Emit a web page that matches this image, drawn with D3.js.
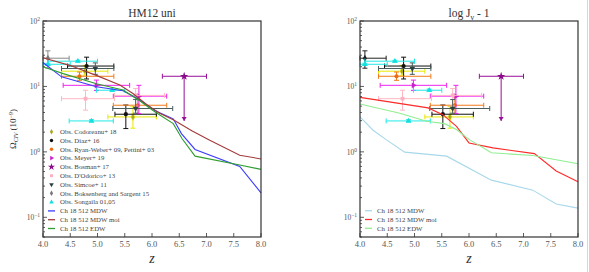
<!DOCTYPE html>
<html><head><meta charset="utf-8">
<script src="https://cdn.jsdelivr.net/npm/d3@7"></script>
<style>body{margin:0;background:#fff}svg{display:block}</style>
</head><body>
<svg id="c" width="589" height="272"></svg>
<script>
// ---------- data ----------
const zTicks = [4.0, 4.5, 5.0, 5.5, 6.0, 6.5, 7.0, 7.5, 8.0];
const yTicks = [0.1, 1, 10, 100];
const yTickExp = ["−1", "0", "1", "2"];
const panelTitles = ["HM12 uni", "log J"];

// observations: [z, value, zLow, zHigh, valueLow, valueHigh]
const codoreanu = [[4.77, 17.1, 4.34, 5.19, 14.8, 21.0], [5.65, 3.42, 5.19, 6.08, 2.3, 4.9]];
const diaz = [[4.80, 20.5, 4.45, 5.30, 13.0, 28.0], [5.52, 3.76, 5.32, 6.08, 2.27, 5.2]];
const ryanWeber = [[4.67, 14.3, 4.34, 5.30, 12.4, 16.6], [5.74, 5.16, 5.29, 6.27, 3.85, 6.9]];
const moyer = [[4.98, 10.4, 4.37, 5.59, 8.7, 12.5], [5.76, 7.1, 5.29, 6.27, 3.86, 10.4]];
const bosman = [[6.59, 14.3, 6.19, 7.0, 2.97, 14.3]];
const dOdorico = [[4.78, 6.5, 4.34, 5.31, 4.34, 8.75], [5.70, 7.3, 5.31, 6.23, 5.0, 9.3]];
const simcoe = [[4.96, 18.8, 4.34, 5.30, 15.3, 22.9], [5.70, 4.6, 5.28, 6.38, 3.9, 6.3]];
const boksenberg = [[4.09, 27.0, 4.0, 4.48, 19.0, 35.0]];
const songaila = [[4.09, 21.8, 4.0, 4.50, 21.0, 22.6], [4.64, 24.3, 4.09, 5.0, 23.5, 25.1],
                  [5.27, 8.75, 4.98, 5.50, 8.4, 9.1], [4.89, 2.97, 4.48, 5.29, 2.85, 3.1]];
const obsNames = ["Obs. Codoreanu+ 18", "Obs. Díaz+ 16", "Obs. Ryan-Weber+ 09, Pettini+ 03",
  "Obs. Meyer+ 19", "Obs. Bosman+ 17", "Obs. D'Odorico+ 13", "Obs. Simcoe+ 11",
  "Obs. Boksenberg and Sargent 15", "Obs. Songaila 01,05"];

// model lines: [z, value]
const leftMDW = [[4.0, 23.2], [4.34, 14.0], [4.98, 9.9], [5.47, 8.6], [5.78, 6.2], [6.05, 4.3], [6.39, 3.2],
  [6.54, 1.9], [6.79, 1.09], [7.61, 0.6], [8.0, 0.237]];
const leftMDWmoi = [[4.0, 27.5], [4.49, 21.0], [5.0, 14.5], [5.41, 10.5], [5.65, 7.8], [5.9, 5.3], [6.14, 3.9],
  [6.39, 3.1], [6.73, 2.1], [7.06, 1.5], [7.61, 0.89], [8.0, 0.78]];
const leftEDW = [[4.0, 20.0], [4.37, 15.7], [4.98, 11.0], [5.47, 8.8], [5.78, 6.0], [6.05, 4.1], [6.39, 2.7],
  [6.55, 1.6], [6.79, 0.86], [7.61, 0.63], [8.0, 0.54]];
const rightMDW = [[4.0, 3.42], [4.24, 2.14], [4.48, 1.54], [4.82, 0.99], [5.59, 0.86], [6.41, 0.37],
  [7.17, 0.26], [7.6, 0.16], [8.0, 0.138]];
const rightMDWmoi = [[4.0, 6.8], [5.25, 4.7], [5.52, 3.7], [5.77, 2.45], [6.0, 1.37], [6.44, 1.15],
  [7.2, 0.94], [7.6, 0.51], [8.0, 0.35]];
const rightEDW = [[4.0, 5.4], [4.73, 3.9], [5.22, 2.93], [5.55, 2.7], [5.77, 2.2], [6.0, 1.55], [6.41, 0.97],
  [7.17, 0.88], [7.6, 0.76], [8.0, 0.66]];
const lineNames = ["Ch 18 512 MDW", "Ch 18 512 MDW moi", "Ch 18 512 EDW"];

// ---------- styles ----------
const obsSets = [codoreanu, diaz, ryanWeber, moyer, bosman, dOdorico, simcoe, boksenberg, songaila];
const obsBar = ["#e8e800", "#111111", "#f07a1a", "#ee22ee", "#990f99", "#ffb8c4", "#4a5e5e", "#8a8a8a", "#22e8e8"];
const obsMark = ["#a8a820", "#111111", "#f06a10", "#cc22cc", "#8a0a8a", "#ffb0c0", "#2f4040", "#777777", "#10e0e0"];
const obsBarRight = obsBar.slice(); obsBarRight[7] = "#222222";
const obsMarkRight = obsMark.slice(); obsMarkRight[7] = "#222222";
const obsSym = ["diamond", "circle", "circle", "tri-right", "star", "square", "tri-down", "diamond", "tri-up"];
const leftColors = ["#3b3bff", "#a33a3a", "#2e9e2e"];
const rightColors = ["#a8d8ea", "#ff2a2a", "#90ee90"];

const svg = d3.select("#c");
const FONT = "Liberation Serif, DejaVu Serif, serif";

svg.append("line").attr("x1", 587.5).attr("x2", 587.5).attr("y1", 0).attr("y2", 272)
  .attr("stroke", "#d8d8d8").attr("stroke-width", 1);

function symbolPath(kind, size) {
  let t = d3.symbolCircle, rot = 0;
  if (kind === "diamond") t = d3.symbolDiamond;
  if (kind === "square") t = d3.symbolSquare;
  if (kind === "star") t = d3.symbolStar;
  if (kind === "tri-up") t = d3.symbolTriangle;
  if (kind === "tri-down") { t = d3.symbolTriangle; rot = 180; }
  if (kind === "tri-right") { t = d3.symbolTriangle; rot = 90; }
  return { d: d3.symbol().type(t).size(size)(), rot };
}

function panel(x0, x1, title, lines, colors, bars, marks, showObsLegend, showYLabel) {
  const x = d3.scaleLinear().domain([4, 8]).range([x0, x1]);
  const y = d3.scaleLog().domain([0.05, 100]).range([237, 21]);
  const g = svg.append("g");

  // y minor/major ticks inward
  const minor = [];
  for (let e = -2; e <= 1; e++) for (let m = 1; m <= 9; m++) {
    const v = m * Math.pow(10, e);
    if (v >= 0.05 && v <= 100) minor.push(v);
  }
  minor.push(100);
  g.selectAll(".ymin").data(minor).enter().append("line")
    .attr("x1", x0).attr("x2", d => x0 + (yTicks.includes(d) ? 4 : 2))
    .attr("y1", d => y(d)).attr("y2", d => y(d))
    .attr("stroke", "#333").attr("stroke-width", 0.8);
  g.selectAll(".xt").data(zTicks).enter().append("line")
    .attr("x1", d => x(d)).attr("x2", d => x(d)).attr("y1", 237).attr("y2", 233)
    .attr("stroke", "#333").attr("stroke-width", 0.8);

  // tick labels
  g.selectAll(".xl").data(zTicks).enter().append("text")
    .attr("x", d => x(d)).attr("y", 247).attr("text-anchor", "middle")
    .attr("font-family", FONT).attr("font-size", 8.5).attr("fill", "#555")
    .text(d => d.toFixed(1));
  yTicks.forEach((v, i) => {
    const t = g.append("text").attr("x", x0 - 3).attr("y", y(v) + 3).attr("text-anchor", "end")
      .attr("font-family", FONT).attr("font-size", 7.5).attr("fill", "#555");
    t.append("tspan").text("10");
    t.append("tspan").attr("dy", -3).attr("font-size", 5.5).text(yTickExp[i]);
  });

  // observations
  obsSets.forEach((set, si) => {
    set.forEach(p => {
      const [z, v, zl, zh, vl, vh] = p;
      const col = bars[si];
      const cx = x(z), cy = y(v);
      g.append("line").attr("x1", x(zl)).attr("x2", x(zh)).attr("y1", cy).attr("y2", cy)
        .attr("stroke", col).attr("stroke-width", 1);
      [zl, zh].forEach(zz => g.append("line").attr("x1", x(zz)).attr("x2", x(zz))
        .attr("y1", cy - 2.5).attr("y2", cy + 2.5).attr("stroke", col).attr("stroke-width", 1));
      g.append("line").attr("x1", cx).attr("x2", cx).attr("y1", y(vh)).attr("y2", y(vl))
        .attr("stroke", col).attr("stroke-width", 1);
      if (obsSym[si] === "star") {
        const ay = y(vl);
        g.append("path").attr("d", `M${cx - 2.5},${ay - 4}L${cx + 2.5},${ay - 4}L${cx},${ay}Z`).attr("fill", col);
      } else {
        [vl, vh].forEach(vv => g.append("line").attr("x1", cx - 2.5).attr("x2", cx + 2.5)
          .attr("y1", y(vv)).attr("y2", y(vv)).attr("stroke", col).attr("stroke-width", 1));
      }
      const s = symbolPath(obsSym[si], obsSym[si] === "star" ? 22 : 14);
      g.append("path").attr("d", s.d)
        .attr("transform", `translate(${cx},${cy}) rotate(${s.rot})`)
        .attr("fill", marks[si]).attr("stroke", si === 0 ? "#e8e800" : "none").attr("stroke-width", 0.6);
    });
  });

  // model lines
  const lineGen = d3.line().x(d => x(d[0])).y(d => y(d[1]));
  lines.forEach((ln, i) => {
    g.append("path").datum(ln).attr("d", lineGen).attr("fill", "none")
      .attr("stroke", colors[i]).attr("stroke-width", 1.1);
  });

  // frame
  g.append("rect").attr("x", x0).attr("y", 21).attr("width", x1 - x0).attr("height", 216)
    .attr("fill", "none").attr("stroke", "#333").attr("stroke-width", 1.2);

  // title
  const tt = g.append("text").attr("x", (x0 + x1) / 2).attr("y", 17).attr("text-anchor", "middle")
    .attr("font-family", FONT).attr("font-size", 11.5).attr("fill", "#333");
  if (title === "log J") {
    tt.append("tspan").text("log J");
    tt.append("tspan").attr("dy", 2.5).attr("font-size", 8).text("ν");
    tt.append("tspan").attr("dy", -2.5).text(" - 1");
  } else tt.text(title);

  // x label
  g.append("text").attr("x", (x0 + x1) / 2).attr("y", 262.5).attr("text-anchor", "middle")
    .attr("font-family", FONT).attr("font-style", "italic").attr("font-size", 14).attr("fill", "#333").text("z");

  if (showYLabel) {
    const yl = g.append("text").attr("transform", "translate(16,129) rotate(-90)").attr("text-anchor", "middle")
      .attr("font-family", FONT).attr("font-size", 9).attr("fill", "#333");
    yl.append("tspan").text("Ω");
    yl.append("tspan").attr("dy", 2).attr("font-size", 6).attr("font-style", "italic").text("CIV");
    yl.append("tspan").attr("dy", -2).text(" (10");
    yl.append("tspan").attr("dy", -3).attr("font-size", 6).text("−9");
    yl.append("tspan").attr("dy", 3).text(")");
  }

  // legend
  const rowH = 8.8;
  let row = 0;
  const ly0 = showObsLegend ? 131.7 : 210.7;
  const lx = x0 + 6;
  if (showObsLegend) {
    obsNames.forEach((n, i) => {
      const yy = ly0 + row * rowH;
      const s = symbolPath(obsSym[i], obsSym[i] === "star" ? 16 : 9);
      g.append("path").attr("d", s.d).attr("transform", `translate(${lx + 2.5},${yy}) rotate(${s.rot})`)
        .attr("fill", marks[i]);
      g.append("text").attr("x", lx + 11).attr("y", yy + 2.3).attr("font-family", FONT)
        .attr("font-size", 6.8).attr("fill", "#444").text(n);
      row++;
    });
  }
  lineNames.forEach((n, i) => {
    const yy = ly0 + row * rowH;
    g.append("line").attr("x1", lx - 1).attr("x2", lx + 6).attr("y1", yy).attr("y2", yy)
      .attr("stroke", colors[i]).attr("stroke-width", 1.3);
    g.append("text").attr("x", lx + 11).attr("y", yy + 2.3).attr("font-family", FONT)
      .attr("font-size", 6.8).attr("fill", "#444").text(n);
    row++;
  });
}

panel(43, 261, panelTitles[0], [leftMDW, leftMDWmoi, leftEDW], leftColors, obsBar, obsMark, true, true);
panel(360, 578, panelTitles[1], [rightMDW, rightMDWmoi, rightEDW], rightColors, obsBarRight, obsMarkRight, false, false);
</script>
</body></html>
